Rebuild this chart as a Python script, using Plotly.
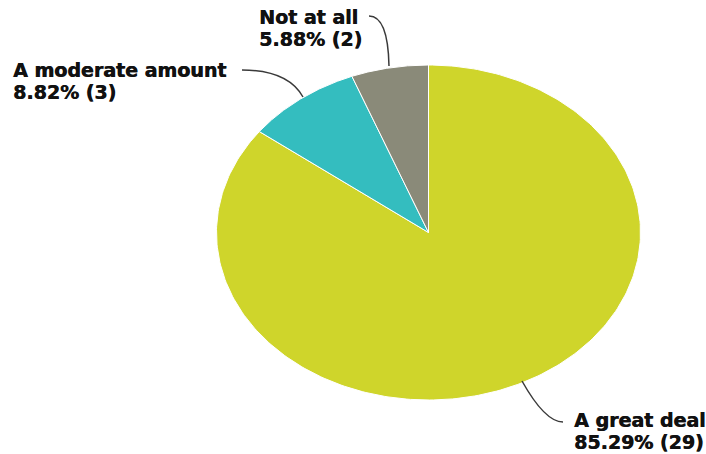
import numpy as np
import plotly.graph_objects as go

labels = ["A great deal", "A moderate amount", "Not at all"]
counts = [29, 3, 2]
percent_text = ["85.29%", "8.82%", "5.88%"]
colors = ["#CFD52B", "#34BDBF", "#8A8A79"]

W, H = 706, 454
cx, cy, rx, ry = 428.5, 232.5, 212.0, 167.5

fig = go.Figure()
total = float(sum(counts))
start = 0.0
for lab, c, col, pt in zip(labels, counts, colors, percent_text):
    frac = c / total
    th = np.linspace(start, start + frac, 300) * 2 * np.pi
    xs = np.concatenate([[cx], cx + rx * np.sin(th), [cx]])
    ys = np.concatenate([[cy], cy - ry * np.cos(th), [cy]])
    fig.add_trace(go.Scatter(
        x=xs, y=ys, mode="lines", fill="toself", fillcolor=col,
        line=dict(color="white", width=1), showlegend=False,
        hoverinfo="text", text=f"{lab}<br>{pt} ({c})", name=lab,
    ))
    start += frac

font = dict(family="DejaVu Sans", size=19, color="#111111", weight="bold",
            shadow="0.6px 0 0 #111111")

# label placement (pixel-like layout positions): left x, first-line middle y
label_pos = {
    "Not at all": (257, 17),
    "A moderate amount": (11, 70),
    "A great deal": (572, 420),
}
line_gap = 22
for lab, c, pt in zip(labels, counts, percent_text):
    lx, ly = label_pos[lab]
    for i, t in enumerate([lab, f"{pt} ({c})"]):
        fig.add_annotation(x=lx, y=ly + i * line_gap, text=t, showarrow=False,
                           xanchor="left", yanchor="middle", font=font,
                           xref="x", yref="y")

leaders = [
    "M 369,16 Q 388,16 389,66",
    "M 242,70 Q 288,70 303,97",
    "M 522,381 Q 545,422 563,422",
]
for p in leaders:
    fig.add_shape(type="path", path=p, line=dict(color="#3a3a3a", width=1.5),
                  xref="x", yref="y", layer="above")

fig.update_layout(
    width=W, height=H, margin=dict(l=0, r=0, t=0, b=0),
    paper_bgcolor="white", plot_bgcolor="white",
    xaxis=dict(range=[0, W], visible=False, fixedrange=True),
    yaxis=dict(range=[H, 0], visible=False, fixedrange=True),
    showlegend=False,
)
fig.write_html(
    "out.html",
    config={"displayModeBar": False},
    post_script="document.body.style.margin='0';document.body.style.overflow='hidden';",
)
